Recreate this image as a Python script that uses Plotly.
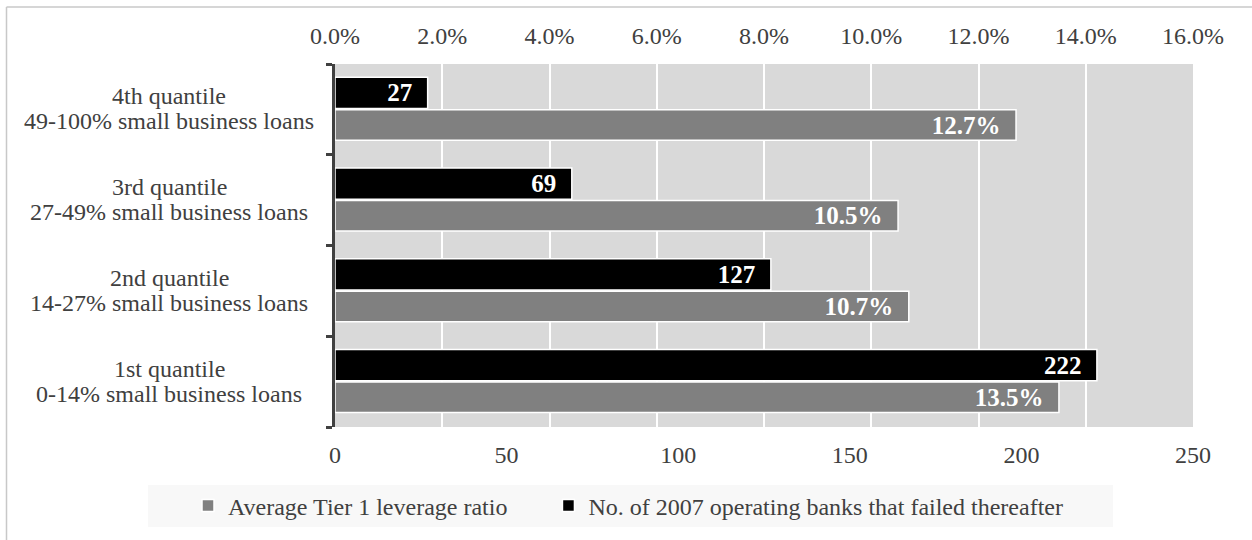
import plotly.graph_objects as go

# ---- data ----
cat_keys = ["q1", "q2", "q3", "q4"]
cat_line1 = ["1st quantile", "2nd quantile", "3rd quantile", "4th quantile"]
cat_line2 = ["0-14% small business loans", "14-27% small business loans",
             "27-49% small business loans", "49-100% small business loans"]
failed_banks = [222, 127, 69, 27]
tier1_ratio = [0.135, 0.107, 0.105, 0.127]
pct_ticks = [0, 0.02, 0.04, 0.06, 0.08, 0.10, 0.12, 0.14, 0.16]
cnt_ticks = [0, 50, 100, 150, 200, 250]
series_names = ["Average Tier 1 leverage ratio",
                "No. of 2007 operating banks that failed thereafter"]

W, H = 1252, 540
L, R, T, B = 335, 1252 - 1193, 64, 540 - 427
PW, PH = W - L - R, H - T - B

def px_x(p):
    return (p - L) / PW

def px_y(p):
    return (H - B - p) / PH

FONT = "Liberation Serif"
TXT = "#404040"
NBSP = "\u00a0"
FS = 24

fig = go.Figure()

fig.add_trace(go.Bar(
    name=series_names[0] + NBSP * 6, y=cat_keys, x=tier1_ratio, orientation="h",
    xaxis="x2", yaxis="y",
    marker=dict(color="#808080", line=dict(color="white", width=1.5)),
    width=0.335, offset=-0.34,
    texttemplate="<b>%{x:.1%}</b>" + NBSP * 2,
    textposition="inside", insidetextanchor="end", constraintext="none",
    textfont=dict(family=FONT, size=25, color="white"),
    hoverinfo="skip",
))
fig.add_trace(go.Bar(
    name=series_names[1], y=cat_keys, x=failed_banks, orientation="h",
    xaxis="x", yaxis="y",
    marker=dict(color="#000000", line=dict(color="white", width=1.5)),
    width=0.345, offset=0.01,
    texttemplate="<b>%{x}</b>" + NBSP * 2,
    textposition="inside", insidetextanchor="end", constraintext="none",
    textfont=dict(family=FONT, size=25, color="white"),
    hoverinfo="skip",
))

annotations = []
for k, a, b in zip(cat_keys, cat_line1, cat_line2):
    for txt, shift in ((a, 13), (b, -12)):
        annotations.append(dict(
            x=px_x(169), xref="paper", y=k, yref="y", yshift=shift,
            text=txt, showarrow=False,
            xanchor="center", yanchor="middle", align="center",
            font=dict(family=FONT, size=FS, color=TXT),
        ))

shapes = [
    # legend background
    dict(type="rect", xref="paper", yref="paper",
         x0=px_x(148), x1=px_x(1113), y0=px_y(527), y1=px_y(485),
         fillcolor="#f8f8f8", line=dict(width=0), layer="below"),
    # outer frame (left and top)
    dict(type="line", xref="paper", yref="paper",
         x0=px_x(6.5), x1=px_x(1260), y0=px_y(7), y1=px_y(7),
         line=dict(color="#c8c8c8", width=1.5)),
    dict(type="line", xref="paper", yref="paper",
         x0=px_x(6.5), x1=px_x(6.5), y0=px_y(7), y1=px_y(545),
         line=dict(color="#c8c8c8", width=1.5)),
]

fig.update_layout(
    width=W, height=H,
    margin=dict(l=L, r=R, t=T, b=B, pad=0),
    paper_bgcolor="white", plot_bgcolor="#d9d9d9",
    font=dict(family=FONT, size=FS, color=TXT),
    barmode="overlay",
    showlegend=True,
    legend=dict(orientation="h", x=px_x(188), xanchor="left",
                y=px_y(506), yanchor="middle",
                bgcolor="rgba(0,0,0,0)",
                font=dict(family=FONT, size=FS, color=TXT),
                traceorder="normal"),
    xaxis=dict(range=[0, 250], tickvals=cnt_ticks, showgrid=False, zeroline=False,
               showline=False, ticks="", tickfont=dict(family=FONT, size=FS, color=TXT),
               ticklabelstandoff=11, fixedrange=True),
    xaxis2=dict(range=[0, 0.16], tickvals=pct_ticks, tickformat=".1%",
                overlaying="x", side="top", showgrid=True, gridcolor="white",
                gridwidth=2, zeroline=False, showline=False, ticks="",
                tickfont=dict(family=FONT, size=FS, color=TXT),
                ticklabelstandoff=14, fixedrange=True),
    yaxis=dict(categoryorder="array", categoryarray=cat_keys, range=[-0.5, 3.5],
               showticklabels=False, showgrid=False, zeroline=False,
               showline=True, linecolor="#404040", linewidth=2.5,
               ticks="outside", tickson="boundaries", ticklen=6, tickwidth=2.5,
               tickcolor="#404040", fixedrange=True),
    annotations=annotations,
    shapes=shapes,
)

fig.write_html("out.html", config={"displayModeBar": False})
